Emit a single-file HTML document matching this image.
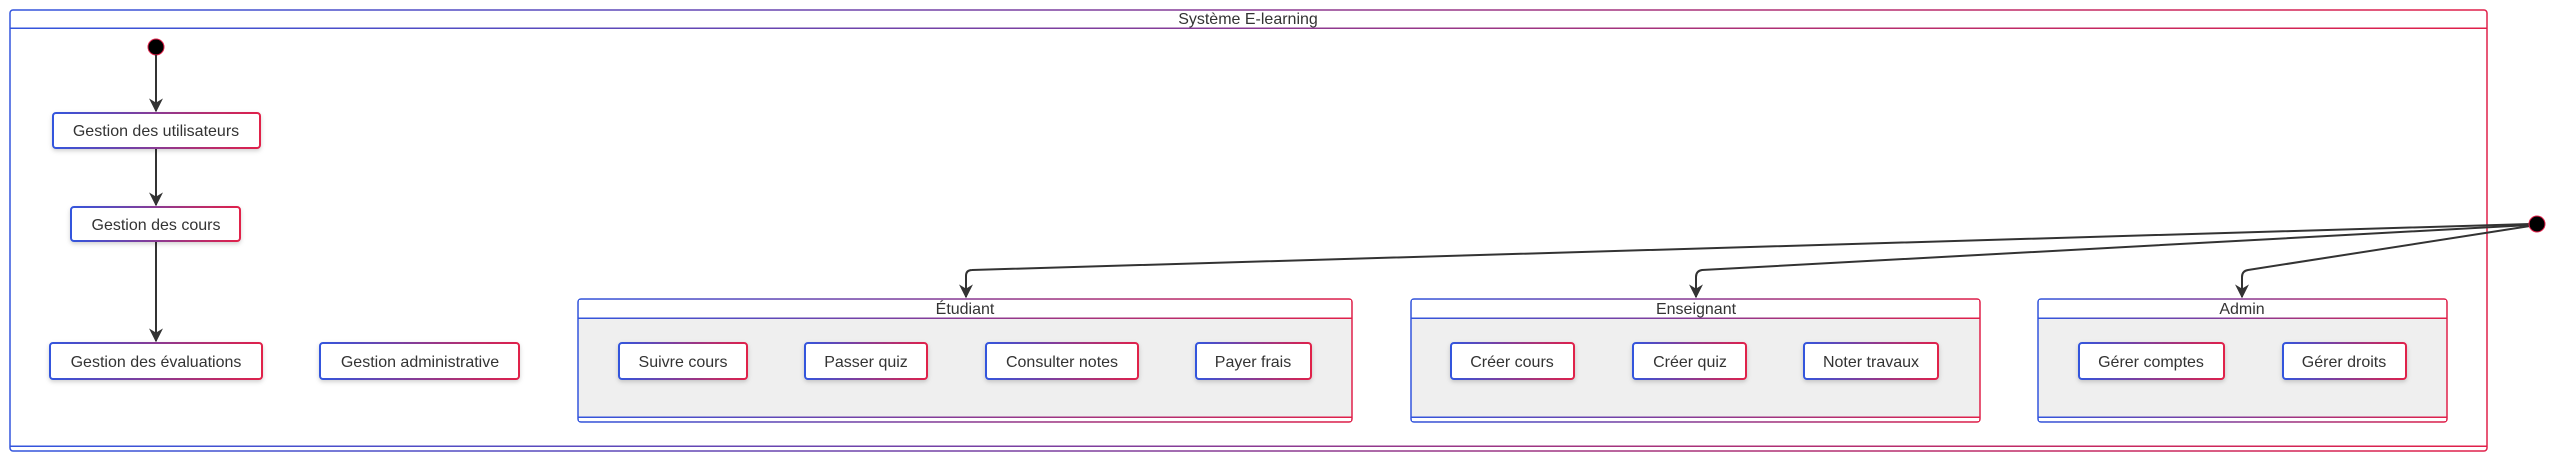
<!DOCTYPE html>
<html><head><meta charset="utf-8"><style>
html,body{margin:0;padding:0;background:#fff;width:2560px;height:462px;overflow:hidden}
text{font-family:"Liberation Sans",Arial,sans-serif;fill:#333;}
</style></head><body>
<svg width="2560" height="462" viewBox="0 0 2560 462" xmlns="http://www.w3.org/2000/svg">
<defs>
<linearGradient id="g" gradientUnits="objectBoundingBox" x1="0" y1="0" x2="1" y2="0">
<stop offset="0" stop-color="#3355dd"/><stop offset="1" stop-color="#e0204a"/></linearGradient>
<filter id="sh" x="-10%" y="-20%" width="120%" height="150%"><feDropShadow dx="0" dy="2" stdDeviation="2" flood-color="#000" flood-opacity="0.18"/></filter>
<marker id="ar" viewBox="0 0 10 10" refX="9" refY="5" markerWidth="7" markerHeight="7" orient="auto"><path d="M0,0 L10,5 L0,10 L3,5 z" fill="#333"/></marker>
</defs>
<!-- outer -->
<rect x="10" y="10" width="2477" height="441" rx="3" fill="#fff" stroke="url(#g)" stroke-width="1.5"/>
<rect x="10" y="27.5" width="2477" height="1.5" fill="url(#g)"/>
<rect x="10" y="445.5" width="2477" height="1.5" fill="url(#g)"/>
<text x="1248" y="24" font-size="16" text-anchor="middle">Système E-learning</text>

<!-- left flow -->
<circle cx="156" cy="47" r="8" fill="#000" stroke="#e0204a" stroke-width="1"/>
<g stroke="#333" stroke-width="2" fill="none">
<line x1="156" y1="55" x2="156" y2="111" marker-end="url(#ar)"/>
<line x1="156" y1="148" x2="156" y2="205" marker-end="url(#ar)"/>
<line x1="156" y1="241" x2="156" y2="341" marker-end="url(#ar)"/>
</g>
<g filter="url(#sh)" fill="#fff" stroke="url(#g)" stroke-width="2">
<rect x="53" y="113" width="207" height="35" rx="3"/>
<rect x="71" y="207" width="169" height="34" rx="3"/>
<rect x="50" y="343" width="212" height="36" rx="3"/>
<rect x="320" y="343" width="199" height="36" rx="3"/>
</g>
<g font-size="16" text-anchor="middle">
<text x="156" y="136">Gestion des utilisateurs</text>
<text x="156" y="230">Gestion des cours</text>
<text x="156" y="367">Gestion des évaluations</text>
<text x="420" y="367">Gestion administrative</text>
</g>

<!-- composites -->
<g stroke="url(#g)" stroke-width="1.5">
<rect x="578" y="299" width="774" height="123" rx="3" fill="#efefef"/>
<rect x="1411" y="299" width="569" height="123" rx="3" fill="#efefef"/>
<rect x="2038" y="299" width="409" height="123" rx="3" fill="#efefef"/>
</g>
<rect x="579" y="300" width="772" height="18" fill="#fff"/>
<rect x="1412" y="300" width="567" height="18" fill="#fff"/>
<rect x="2039" y="300" width="407" height="18" fill="#fff"/>
<rect x="579" y="418" width="772" height="3" fill="#fff"/>
<rect x="1412" y="418" width="567" height="3" fill="#fff"/>
<rect x="2039" y="418" width="407" height="3" fill="#fff"/>
<g fill="url(#g)">
<rect x="578" y="317.5" width="774" height="1.5"/><rect x="578" y="416.5" width="774" height="1.5"/>
<rect x="1411" y="317.5" width="569" height="1.5"/><rect x="1411" y="416.5" width="569" height="1.5"/>
<rect x="2038" y="317.5" width="409" height="1.5"/><rect x="2038" y="416.5" width="409" height="1.5"/>
</g>
<g font-size="16" text-anchor="middle">
<text x="965" y="314">Étudiant</text>
<text x="1696" y="314">Enseignant</text>
<text x="2242" y="314">Admin</text>
</g>
<g filter="url(#sh)" fill="#fff" stroke="url(#g)" stroke-width="2">
<rect x="619" y="343" width="128" height="36" rx="3"/>
<rect x="805" y="343" width="122" height="36" rx="3"/>
<rect x="986" y="343" width="152" height="36" rx="3"/>
<rect x="1196" y="343" width="115" height="36" rx="3"/>
<rect x="1451" y="343" width="123" height="36" rx="3"/>
<rect x="1633" y="343" width="113" height="36" rx="3"/>
<rect x="1804" y="343" width="134" height="36" rx="3"/>
<rect x="2079" y="343" width="145" height="36" rx="3"/>
<rect x="2283" y="343" width="123" height="36" rx="3"/>
</g>
<g font-size="16" text-anchor="middle">
<text x="683" y="367">Suivre cours</text>
<text x="866" y="367">Passer quiz</text>
<text x="1062" y="367">Consulter notes</text>
<text x="1253" y="367">Payer frais</text>
<text x="1512" y="367">Créer cours</text>
<text x="1690" y="367">Créer quiz</text>
<text x="1871" y="367">Noter travaux</text>
<text x="2151" y="367">Gérer comptes</text>
<text x="2344" y="367">Gérer droits</text>
</g>

<!-- right start -->
<g stroke="#333" stroke-width="2" fill="none">
<path d="M2530,224 L972,270 Q966,270 966,276 L966,297" marker-end="url(#ar)"/>
<path d="M2530,225 L1702,270 Q1696,271 1696,277 L1696,297" marker-end="url(#ar)"/>
<path d="M2530,226 L2248,270 Q2242,271 2242,277 L2242,297" marker-end="url(#ar)"/>
</g>
<circle cx="2537" cy="224" r="8" fill="#000" stroke="#e0204a" stroke-width="1"/>
</svg>
</body></html>
